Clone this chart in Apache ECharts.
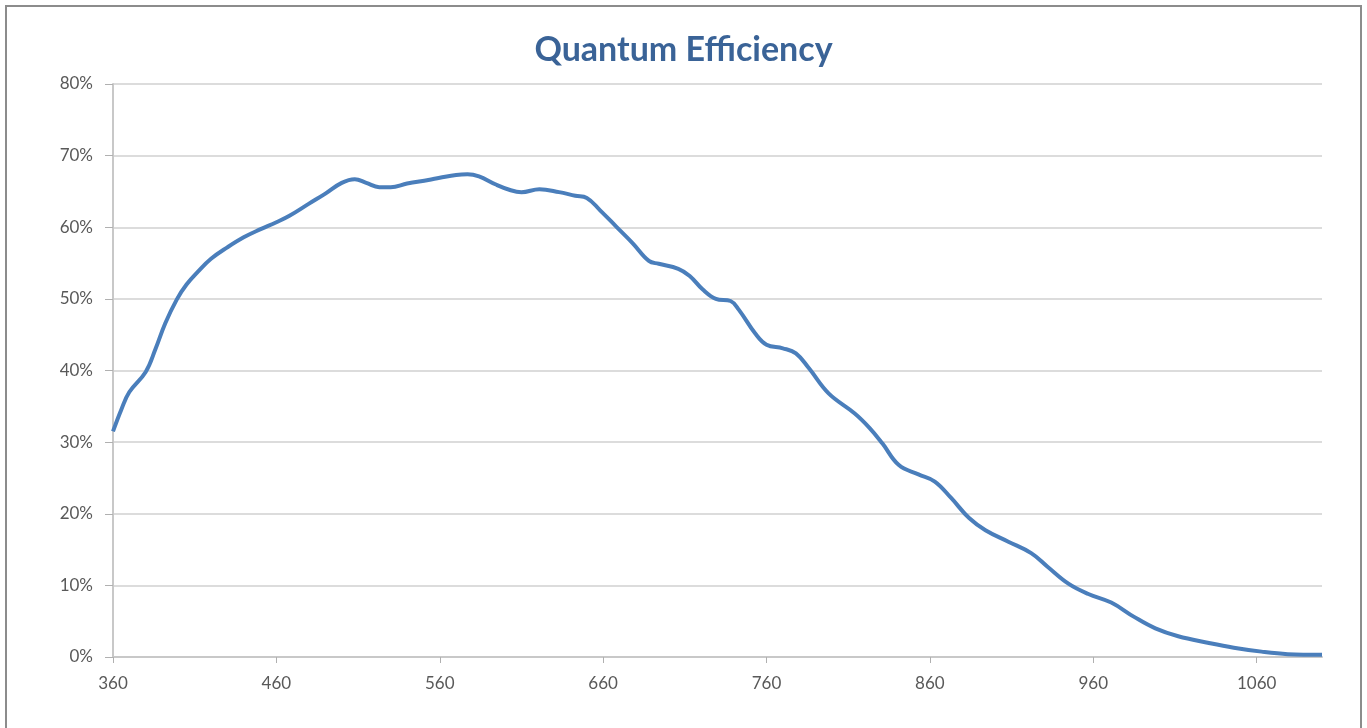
<!DOCTYPE html>
<html>
<head>
<meta charset="utf-8">
<title>Quantum Efficiency</title>
<script src="https://cdn.jsdelivr.net/npm/echarts@6/dist/echarts.min.js"></script>
<style type="text/css">
	html, body{
		margin: 0;
		padding: 0;
		background: #fff;
		overflow: hidden;
	}
	#chart_box{
		position: absolute;
		left: 0;
		top: 0;
		width: 1367px;
		height: 728px;
	}
	.frame{
		position: absolute;
		left: 5px;
		top: 5px;
		width: 1353px;
		height: 800px;
		border: 2px solid #8c8c8c;
		pointer-events: none;
	}
</style>
</head>
<body>
<div id="chart_box"></div>
<div class="frame"></div>

<script type="text/javascript">
// wavelength (nm) and quantum efficiency (%)
var wavelength = [
	360, 365, 370, 380, 386, 392, 399, 405, 412, 420,
	430, 440, 450, 460, 468, 480, 490, 500, 508, 515,
	523, 530, 540, 553, 560, 570, 577, 584, 594, 603,
	610, 621, 633, 643, 650, 658, 668, 678, 688, 694,
	706, 713, 721, 729, 738, 743, 753, 760, 770, 778,
	786, 798, 814, 823, 831, 841, 853, 863, 873, 884,
	894, 908, 922, 932, 945, 957, 971, 985, 998, 1012,
	1030, 1046, 1063, 1079, 1100
];
var efficiency = [
	31.5, 34.5, 37.0, 39.8, 43.0, 46.6, 49.9, 52.0, 53.8, 55.6,
	57.2, 58.6, 59.7, 60.7, 61.6, 63.3, 64.7, 66.2, 66.7, 66.2,
	65.6, 65.6, 66.1, 66.6, 66.9, 67.3, 67.4, 67.1, 66.0, 65.2,
	64.9, 65.3, 64.9, 64.4, 64.1, 62.4, 60.1, 57.8, 55.3, 54.9,
	54.2, 53.2, 51.3, 50.0, 49.7, 48.5, 45.2, 43.6, 43.1, 42.4,
	40.3, 36.8, 34.0, 32.0, 29.8, 26.8, 25.5, 24.5, 22.2, 19.4,
	17.7, 16.1, 14.5, 12.6, 10.2, 8.8, 7.6, 5.6, 4.0, 2.9,
	2.0, 1.3, 0.75, 0.4, 0.3
];
var x_ticks = [360, 460, 560, 660, 760, 860, 960, 1060];

var series_data = wavelength.map(function(w, i) {
	return [w, efficiency[i]];
});

var myChart = echarts.init(document.getElementById('chart_box'));

var option = {
	animation: false,
	title: {
		text: 'Quantum Efficiency',
		left: 'center',
		top: 28,
		textStyle: {
			fontFamily: 'Lato',
			fontWeight: 'bold',
			fontSize: 34,
			color: '#3A6397'
		}
	},
	grid: {
		left: 113,
		right: 45,
		top: 84,
		bottom: 71
	},
	xAxis: {
		type: 'value',
		min: 360,
		max: 1100,
		splitLine: { show: false },
		axisLine: {
			lineStyle: { color: '#c8c8c8', width: 2 }
		},
		axisTick: {
			customValues: x_ticks,
			length: 6,
			lineStyle: { color: '#b0b0b0', width: 1 }
		},
		axisLabel: {
			customValues: x_ticks,
			formatter: function(v) { return String(v); },
			margin: 18,
			fontFamily: 'Lato',
			fontSize: 17,
			color: '#595959'
		}
	},
	yAxis: {
		type: 'value',
		min: 0,
		max: 80,
		interval: 10,
		axisLine: {
			show: true,
			lineStyle: { color: '#c8c8c8', width: 2 }
		},
		axisTick: {
			show: true,
			length: 8,
			lineStyle: { color: '#b0b0b0', width: 1 }
		},
		splitLine: {
			lineStyle: { color: '#d0d0d0', width: 1.5 }
		},
		axisLabel: {
			formatter: '{value}%',
			margin: 20,
			fontFamily: 'Lato',
			fontSize: 17,
			color: '#595959'
		}
	},
	series: [
		{
			name: 'QE',
			type: 'line',
			smooth: 0.4,
			symbol: 'none',
			lineStyle: {
				color: '#4A7EBB',
				width: 4
			},
			data: series_data
		}
	]
};
myChart.setOption(option);
</script>
</body>
</html>
